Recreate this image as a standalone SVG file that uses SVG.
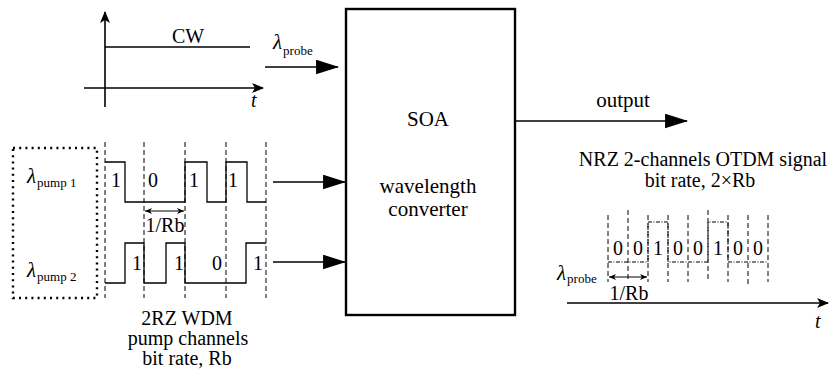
<svg xmlns="http://www.w3.org/2000/svg" width="836" height="373" viewBox="0 0 836 373" font-family="'Liberation Serif', 'DejaVu Serif', serif">
<style>
text, tspan{font-family:"Liberation Serif","DejaVu Serif",serif;fill:#000}
.t21{font-size:21px}
.t20{font-size:20px}
.mid{text-anchor:middle}
.lam{font-size:21px;font-style:italic}
.sub{font-size:13px}
.sig{fill:none;stroke:#000;stroke-width:1.3}
.dash{fill:none;stroke:#000;stroke-width:1;stroke-dasharray:5 3}
.dsig{fill:none;stroke:#000;stroke-width:1;stroke-dasharray:4 1.5 1 1.5}
.ax{fill:none;stroke:#000;stroke-width:1.6}
.arr{fill:none;stroke:#000;stroke-width:1.6}
</style>
<defs>
<marker id="big" viewBox="0 0 22 14" refX="21" refY="7" markerWidth="23" markerHeight="15" markerUnits="userSpaceOnUse" orient="auto"><path d="M0,0 L22,7 L0,14 Z" fill="#000"/></marker>
<marker id="dart" viewBox="0 0 12 10" refX="11" refY="5" markerWidth="12" markerHeight="10" markerUnits="userSpaceOnUse" orient="auto"><path d="M0,0 L12,5 L0,10 L3,5 Z" fill="#000"/></marker>
<marker id="sm" viewBox="0 0 7 6" refX="7" refY="3" markerWidth="7" markerHeight="6" markerUnits="userSpaceOnUse" orient="auto-start-reverse"><path d="M0,0 L7,3 L0,6 L2,3 Z" fill="#000"/></marker>
</defs>

<g id="cw-plot">
<line class="ax" x1="105" y1="107" x2="105" y2="12" marker-end="url(#dart)"/>
<line class="ax" x1="84" y1="88" x2="263" y2="88" stroke="#333" marker-end="url(#dart)"/>
<line class="sig" x1="105" y1="47" x2="250" y2="47" stroke-width="1.6"/>
<text class="t20 mid" x="188" y="43">CW</text>
<text class="t20" x="251" y="107" font-style="italic">t</text>
</g>

<g id="pump-source">
<rect x="13" y="148" width="84" height="150" fill="none" stroke="#000" stroke-width="2.4" stroke-dasharray="2 4.2"/>
<text x="27" y="183"><tspan class="lam">λ</tspan><tspan class="sub" dx="1" dy="4">pump 1</tspan></text>
<text x="27" y="277"><tspan class="lam">λ</tspan><tspan class="sub" dx="1" dy="4">pump 2</tspan></text>
</g>

<g id="pump-signals">
<g class="dash">
<line x1="105" y1="142" x2="105" y2="298"/>
<line x1="144" y1="142" x2="144" y2="298"/>
<line x1="185" y1="142" x2="185" y2="298"/>
<line x1="226" y1="142" x2="226" y2="298"/>
<line x1="266" y1="142" x2="266" y2="298"/>
</g>
<path class="sig" d="M105,162 H125 V202 H185 V162 H207 V202 H226 V162 H247 V202 H266"/>
<path class="sig" d="M105,283 H125 V243 H144 V283 H166 V243 H185 V283 H246 V243 H266"/>
<g class="t20 mid">
<text x="116" y="187">1</text>
<text x="153" y="187">0</text>
<text x="194" y="187">1</text>
<text x="233" y="187">1</text>
<text x="137" y="270">1</text>
<text x="179" y="270">1</text>
<text x="217" y="270">0</text>
<text x="258" y="270">1</text>
</g>
<line x1="145" y1="211" x2="184" y2="211" stroke="#000" stroke-width="1" marker-start="url(#sm)" marker-end="url(#sm)"/>
<text class="t20 mid" x="165" y="232">1/Rb</text>
<text class="t20 mid" x="187" y="325">2RZ WDM</text>
<text class="t20 mid" x="188" y="345">pump channels</text>
<text class="t20 mid" x="187" y="365">bit rate, Rb</text>
</g>

<g id="soa">
<rect x="346" y="9" width="169" height="306" fill="none" stroke="#000" stroke-width="2.4"/>
<text class="t21 mid" x="428" y="126">SOA</text>
<text class="t21 mid" x="428" y="193">wavelength</text>
<text class="t21 mid" x="428" y="216">converter</text>
</g>

<g id="output-signal">
<text class="t20 mid" x="703" y="166">NRZ 2-channels OTDM signal</text>
<text class="t20 mid" x="700" y="187">bit rate, 2×Rb</text>
<g class="dash">
<line x1="608" y1="215" x2="608" y2="282"/>
<line x1="628" y1="210" x2="628" y2="282"/>
<line x1="648" y1="215" x2="648" y2="282"/>
<line x1="668" y1="215" x2="668" y2="282"/>
<line x1="688" y1="215" x2="688" y2="282"/>
<line x1="708" y1="210" x2="708" y2="282"/>
<line x1="728" y1="215" x2="728" y2="282"/>
<line x1="748" y1="215" x2="748" y2="285"/>
<line x1="768" y1="215" x2="768" y2="282"/>
</g>
<path class="dsig" d="M608,262 H648 V222 H668 V262 H708 V222 H728 V262 H768"/>
<g class="t20 mid">
<text x="618" y="255">0</text>
<text x="638" y="255">0</text>
<text x="658" y="255">1</text>
<text x="678" y="255">0</text>
<text x="698" y="255">0</text>
<text x="718" y="255">1</text>
<text x="738" y="255">0</text>
<text x="758" y="255">0</text>
</g>
<text x="557" y="280"><tspan class="lam">λ</tspan><tspan class="sub" dx="1" dy="3">probe</tspan></text>
<line x1="609" y1="277" x2="647" y2="277" stroke="#000" stroke-width="1" marker-start="url(#sm)" marker-end="url(#sm)"/>
<text class="t20 mid" x="629" y="300">1/Rb</text>
<line class="ax" x1="567" y1="303" x2="828" y2="303" marker-end="url(#dart)"/>
<text class="t20" x="815" y="328" font-style="italic">t</text>
</g>

<g id="connectors">
<line class="arr" x1="265" y1="67" x2="338" y2="67" marker-end="url(#big)"/>
<text x="273" y="49"><tspan class="lam">λ</tspan><tspan class="sub" dx="1" dy="6">probe</tspan></text>
<line class="arr" x1="273" y1="182" x2="345" y2="182" marker-end="url(#big)"/>
<line class="arr" x1="273" y1="262" x2="345" y2="262" marker-end="url(#big)"/>
<line class="arr" x1="515" y1="121" x2="687" y2="121" marker-end="url(#big)"/>
<text class="t21 mid" x="623" y="107">output</text>
</g>
</svg>
